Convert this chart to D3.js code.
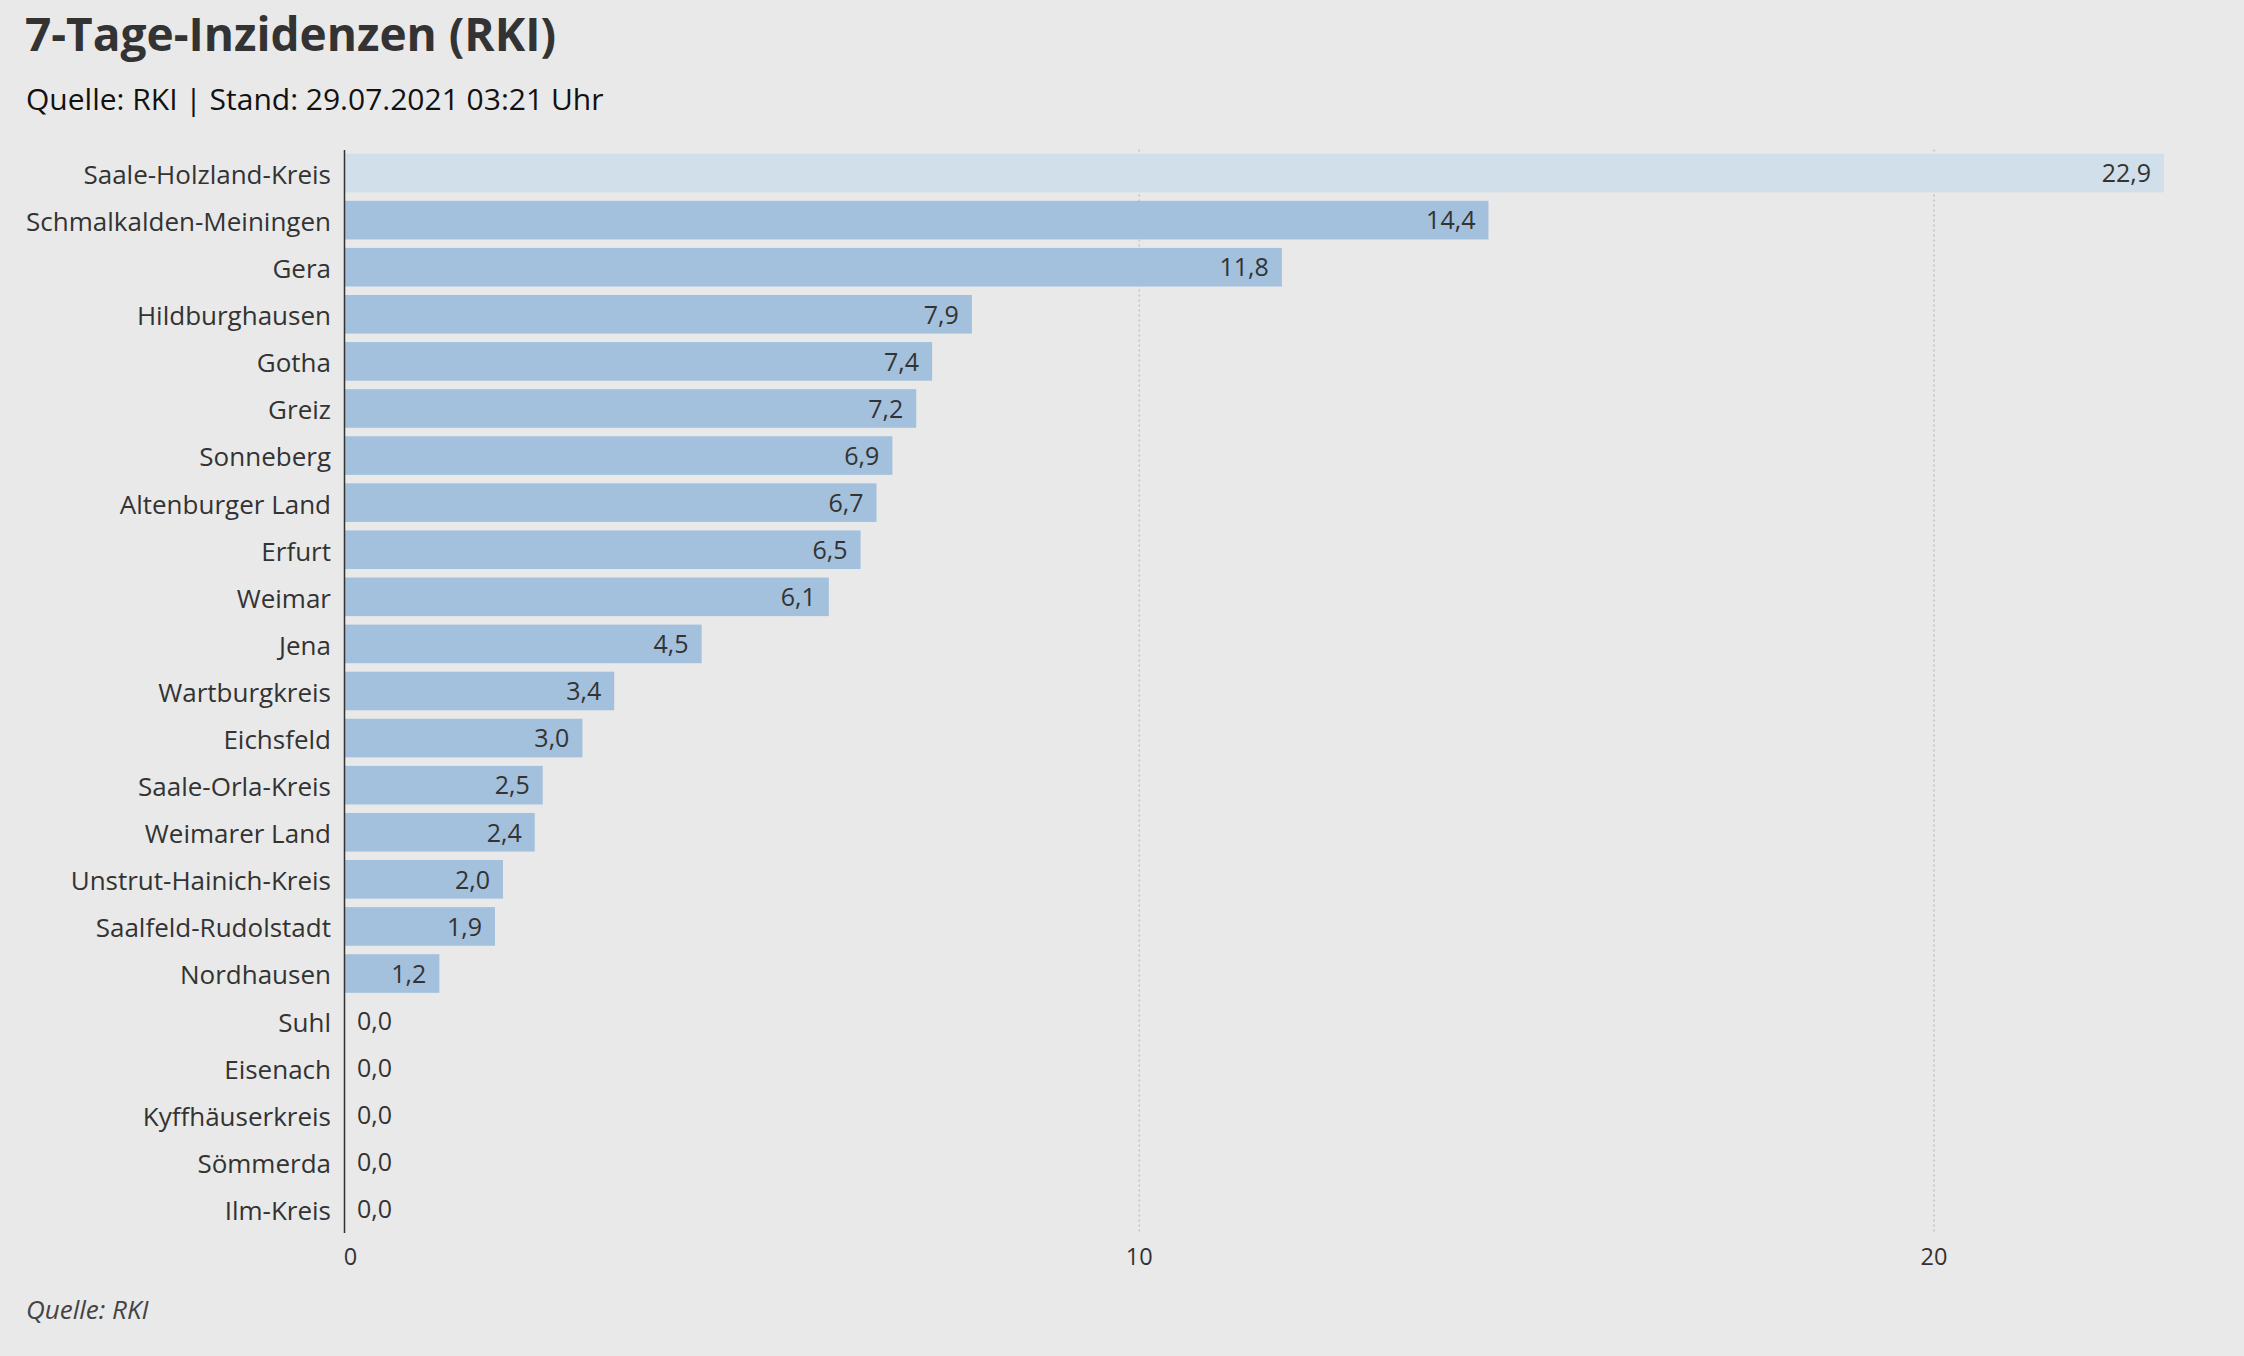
<!DOCTYPE html>
<html lang="de">
<head>
    <meta charset="UTF-8">
    <title>7-Tage-Inzidenzen (RKI)</title>
    <script src="https://cdn.jsdelivr.net/npm/d3@7/dist/d3.min.js"></script>
    <style>
        body { margin: 0; background: #e9e9e9; font-family: "Open Sans", sans-serif; }
    </style>
</head>
<body>
<svg width="2244" height="1356"></svg>
<script>
    // Thüringer Kreise, sortiert nach Inzidenz
    const districts = ["Saale-Holzland-Kreis", "Schmalkalden-Meiningen", "Gera", "Hildburghausen", "Gotha",
        "Greiz", "Sonneberg", "Altenburger Land", "Erfurt", "Weimar", "Jena", "Wartburgkreis", "Eichsfeld",
        "Saale-Orla-Kreis", "Weimarer Land", "Unstrut-Hainich-Kreis", "Saalfeld-Rudolstadt", "Nordhausen",
        "Suhl", "Eisenach", "Kyffhäuserkreis", "Sömmerda", "Ilm-Kreis"];
    const incidence = [22.9, 14.4, 11.8, 7.9, 7.4, 7.2, 6.9, 6.7, 6.5, 6.1, 4.5, 3.4, 3.0,
        2.5, 2.4, 2.0, 1.9, 1.2, 0.0, 0.0, 0.0, 0.0, 0.0];
    const xTicks = [0, 10, 20];
    const highlighted = "Saale-Holzland-Kreis";

    const data = districts.map((name, i) => ({name: name, value: incidence[i]}));
    const fmt = v => v.toFixed(1).replace(".", ",");

    let svg = d3.select("svg");

    let scaleX = d3.scaleLinear().domain([0, 22.9]).range([344, 2164]);
    let scaleY = d3.scaleBand().domain(districts).range([149.5, 1232.5])
        .paddingInner(0.18).paddingOuter(0.09);

    // titles
    svg.append("text").attr("x", 25).attr("y", 51)
        .style("font-size", "46px").style("font-weight", "700").style("fill", "#333")
        .text("7-Tage-Inzidenzen (RKI)");
    svg.append("text").attr("x", 26).attr("y", 110)
        .style("font-size", "30px").style("fill", "#111")
        .text("Quelle: RKI | Stand: 29.07.2021 03:21 Uhr");

    // dotted gridlines
    let grid = svg.append("g").attr("transform", "translate(0,149.5)")
        .call(d3.axisBottom(scaleX).tickValues(xTicks.filter(t => t > 0))
            .tickSize(1083).tickFormat(""));
    grid.select(".domain").remove();
    grid.selectAll("line").style("stroke", "#c4c4c4").style("stroke-width", "1.5px")
        .style("stroke-dasharray", "2,3");

    // bars
    svg.append("g").selectAll("rect").data(data).join("rect")
        .attr("x", scaleX(0) + 1)
        .attr("y", d => scaleY(d.name))
        .attr("width", d => Math.max(0, scaleX(d.value) - scaleX(0) - 1))
        .attr("height", scaleY.bandwidth())
        .style("fill", d => d.name === highlighted ? "#d1dfeb" : "#a3c0dc");

    // value labels
    svg.append("g").selectAll("text").data(data).join("text")
        .attr("x", d => d.value > 0 ? scaleX(d.value) - 13 : scaleX(0) + 13)
        .attr("y", d => scaleY(d.name) + scaleY.bandwidth() / 2)
        .attr("dy", "0.37em")
        .attr("text-anchor", d => d.value > 0 ? "end" : "start")
        .style("font-size", "25px").style("fill", "#333")
        .text(d => fmt(d.value));

    // y axis
    let yAxis = svg.append("g").attr("transform", "translate(344,0)")
        .call(d3.axisLeft(scaleY).tickSize(0).tickSizeOuter(0).tickPadding(13));
    yAxis.select(".domain").style("stroke", "#333").style("stroke-width", "1.5px");
    yAxis.selectAll("text").attr("dy", "0.42em")
        .style("font-size", "26px").style("fill", "#333")
        .style("font-family", "'Open Sans', sans-serif");

    // x axis labels
    let xAxis = svg.append("g").attr("transform", "translate(0,1232)")
        .call(d3.axisBottom(scaleX).tickValues(xTicks).tickSize(0).tickPadding(16));
    xAxis.select(".domain").remove();
    xAxis.selectAll("text").style("font-size", "23.5px").style("fill", "#333")
        .style("font-family", "'Open Sans', sans-serif");
    xAxis.selectAll("text").filter(d => d === 0).attr("x", 6);

    // footer
    svg.append("text").attr("x", 26).attr("y", 1319)
        .style("font-size", "26px").style("font-style", "italic").style("fill", "#444")
        .text("Quelle: RKI");
</script>
</body>
</html>
